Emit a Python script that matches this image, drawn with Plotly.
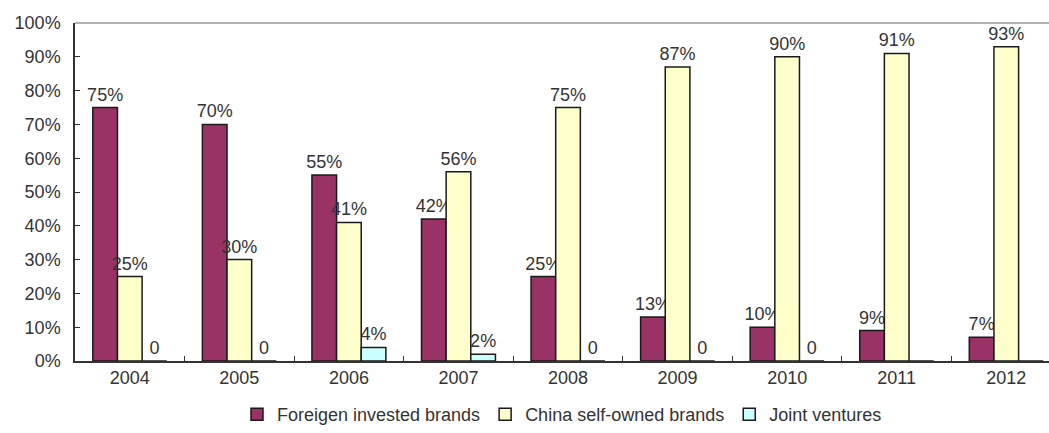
import plotly.graph_objects as go

years = ["2004", "2005", "2006", "2007", "2008", "2009", "2010", "2011", "2012"]
foreign = [75, 70, 55, 42, 25, 13, 10, 9, 7]
china = [25, 30, 41, 56, 75, 87, 90, 91, 93]
joint = [0, 0, 4, 2, 0, 0, 0, 0, 0]
joint_labels = ["0", "0", "4%", "2%", "0", "0", "0", "", ""]
y_ticks = [0, 10, 20, 30, 40, 50, 60, 70, 80, 90, 100]

font = dict(family="Liberation Sans, Arial, sans-serif", size=18, color="#333333")
edge = dict(color="#1a1a1a", width=1.5)

fig = go.Figure()
fig.add_trace(go.Bar(x=years, y=foreign, name="Foreigen invested brands",
                     marker=dict(color="#993366", line=edge),
                     text=[f"{v}%" for v in foreign], textposition="outside",
                     textfont=font, cliponaxis=False, constraintext="none"))
fig.add_trace(go.Bar(x=years, y=china, name="China self-owned brands",
                     marker=dict(color="#FFFFCC", line=edge),
                     text=[f"{v}%" for v in china], textposition="outside",
                     textfont=font, cliponaxis=False, constraintext="none"))
fig.add_trace(go.Bar(x=years, y=joint, name="Joint ventures",
                     marker=dict(color="#CCFFFF", line=edge),
                     text=joint_labels, textposition="outside",
                     textfont=font, cliponaxis=False, constraintext="none"))

fig.update_layout(
    width=1049, height=433,
    margin=dict(l=75, r=0, t=23, b=72),
    paper_bgcolor="white", plot_bgcolor="white",
    barmode="group", bargap=0.325, bargroupgap=0,
    font=font,
    showlegend=True,
    legend=dict(orientation="h", x=0.5, xanchor="center", y=-0.213, yanchor="bottom",
                font=font, itemwidth=30, traceorder="normal", tracegroupgap=0),
)
fig.update_xaxes(type="category", range=[-0.5, 8.39], showline=True, linecolor="#333333",
                 linewidth=1.5, ticks="inside", tickson="boundaries", ticklen=5,
                 tickcolor="#333333", showgrid=False, tickfont=font)
fig.update_yaxes(range=[0, 100], tickvals=y_ticks, ticktext=[f"{v}%" for v in y_ticks],
                 showline=True, linecolor="#333333", linewidth=1.5, ticks="inside",
                 ticklen=5, tickcolor="#333333", showgrid=False, zeroline=False,
                 tickfont=font, ticklabelstandoff=9)
fig.add_shape(type="line", xref="paper", yref="paper", x0=0, x1=1, y0=1, y1=1,
              line=dict(color="#999999", width=1.5))

fig.write_html("out.html")
